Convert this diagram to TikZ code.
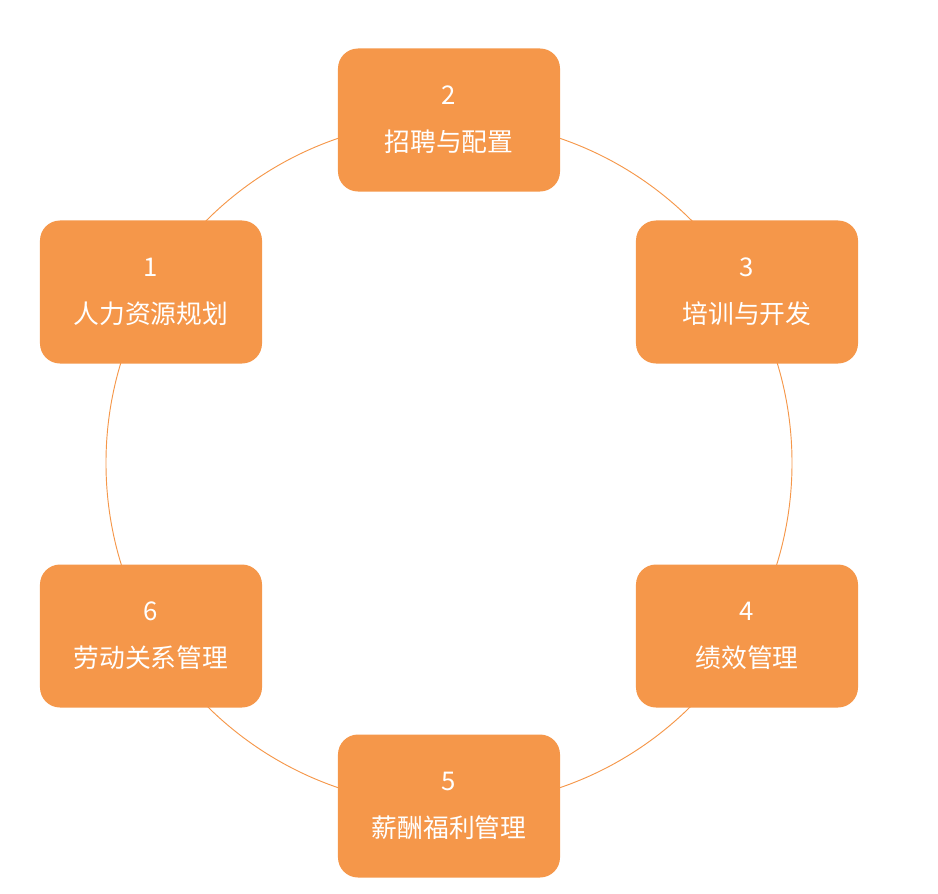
\documentclass[tikz,border=0pt]{standalone}
\usepackage{fontspec}
\newfontfamily\cjk{Noto Sans CJK SC}
\definecolor{stageorange}{HTML}{F5974A}

\begin{document}
\begin{tikzpicture}[x=0.03cm,y=-0.03cm,
		stage node/.style={rectangle,rounded corners=0.6cm,fill=stageorange,text=white,
			minimum width=6.66cm,minimum height=4.29cm,align=center,
			font=\cjk\fontsize{22}{40}\selectfont}]
	\useasboundingbox (0,0) rectangle (938,894);
	\coordinate (c) at (449,463);
	\draw[stageorange,line width=0.8pt] (c) circle (10.29cm);
	\node[stage node] (1) at (151,292) {1\\人力资源规划};
	\node[stage node] (2) at (449,120) {2\\招聘与配置};
	\node[stage node] (3) at (747,292) {3\\培训与开发};
	\node[stage node] (4) at (747,636) {4\\绩效管理};
	\node[stage node] (5) at (449,806) {5\\薪酬福利管理};
	\node[stage node] (6) at (151,636) {6\\劳动关系管理};
\end{tikzpicture}
\end{document}
